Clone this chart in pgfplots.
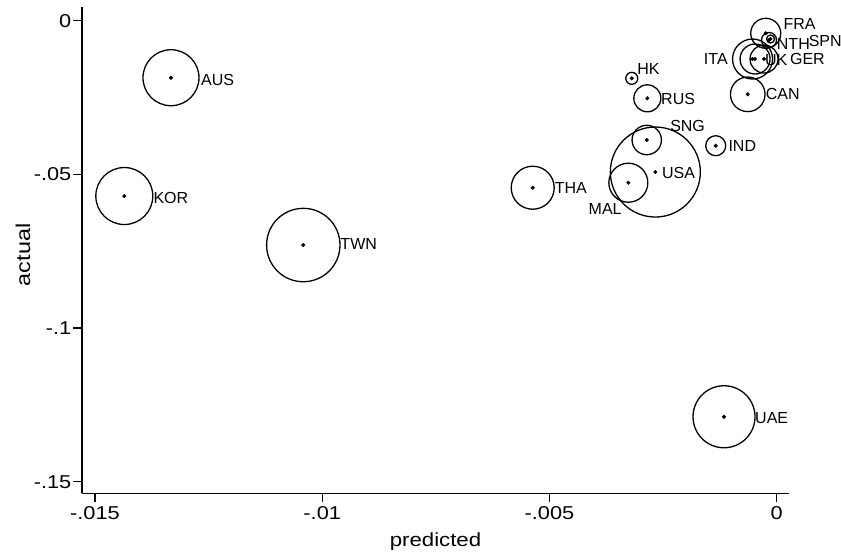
\documentclass[border=0pt]{standalone}
\usepackage{fontspec}
\setmainfont{Liberation Sans}
\newfontfamily\widefont[FakeStretch=1.17]{Liberation Sans}
\usepackage{pgfplots}
\usepackage{pgfplotstable}
\pgfplotsset{compat=1.18}
% x, y: data point; r: bubble radius (px)
\pgfplotstableread{
x y r
-0.013328 -0.018549 28
-0.014355 -0.057045 28.5
-0.010417 -0.072991 36.7
-0.005369 -0.054344 21.5
-0.003265 -0.052717 19.5
-0.002671 -0.049235 45
-0.002860 -0.038822 14.7
-0.001342 -0.040677 10
-0.003190 -0.018744 6
-0.002847 -0.025252 13.5
-0.000638 -0.023951 17.3
-0.001160 -0.128864 31
-0.000532 -0.012463 20
-0.000477 -0.012463 15
-0.000279 -0.012463 14
-0.000242 -0.004100 15
-0.000169 -0.006280 7.5
-0.000136 -0.005955 4
}\data
% label anchor positions, labels to the right of the point
\pgfplotstableread{
lx ly lab
-0.012668 -0.019200 AUS
-0.013717 -0.057696 KOR
-0.009603 -0.072666 TWN
-0.004885 -0.054344 THA
-0.002528 -0.049398 USA
-0.002347 -0.034234 SNG
-0.001065 -0.040677 IND
-0.003073 -0.015783 HK
-0.002546 -0.025577 RUS
-0.000242 -0.023951 CAN
-0.000478 -0.129189 UAE
-0.000262 -0.012691 UK
0.000290 -0.012463 GER
0.000145 -0.001139 FRA
0.000000 -0.007582 NTH
0.000700 -0.006606 SPN
}\labright
% labels to the left of the point
\pgfplotstableread{
lx ly lab
-0.003408 -0.061275 MAL
-0.001075 -0.012463 ITA
}\lableft
\begin{document}
\begin{tikzpicture}[x=1pt,y=1pt]
\path[use as bounding box] (0,0) rectangle (841,554);
\begin{axis}[
  at={(82pt,60.7pt)}, anchor=south west,
  scale only axis, width=707pt, height=486.6pt,
  xmin=-0.015286, xmax=0.00027, ymin=-0.15377, ymax=0.00456,
  scaled x ticks=false, scaled y ticks=false,
  axis x line*=bottom, axis y line*=left,
  axis line style={-, line width=1.2pt, black},
  tick align=outside, major tick length=9pt,
  tick style={black, line width=1.2pt},
  xtick={-0.015,-0.01,-0.005,0}, xticklabels={-.015,-.01,-.005,0},
  ytick={-0.15,-0.1,-0.05,0}, yticklabels={-.15,-.1,-.05,0},
  ticklabel style={font=\widefont\fontsize{18.6}{19}\selectfont},
  yticklabel style={inner xsep=1.5pt},
  xticklabel style={inner ysep=4pt},
  xlabel={predicted}, ylabel={actual},
  xlabel style={at={(axis description cs:0.5,-0.1097)}, anchor=base, font=\widefont\fontsize{19}{20}\selectfont},
  ylabel style={at={(axis description cs:-0.0835,0.49)}, anchor=center, font=\widefont\fontsize{20}{20}\selectfont},
  clip=false,
]
\addplot[scatter, only marks, mark=o,
  scatter/use mapped color={draw=black, fill=none},
  visualization depends on={\thisrow{r}\as\rad},
  scatter/@pre marker code/.append style={/tikz/mark size=\rad},
  mark options={line width=1.3pt}] table[x=x,y=y,meta=r]{\data};
\addplot[only marks, mark=*, mark size=1.8pt, black] table[x=x,y=y]{\data};
\addplot[only marks, mark=*, mark size=0pt, mark options={draw=none,fill=none},
  point meta=explicit symbolic, nodes near coords,
  every node near coord/.append style={anchor=west, inner sep=0pt, font=\fontsize{16}{16}\selectfont, black}]
  table[x=lx,y=ly,meta=lab]{\labright};
\addplot[only marks, mark=*, mark size=0pt, mark options={draw=none,fill=none},
  point meta=explicit symbolic, nodes near coords,
  every node near coord/.append style={anchor=east, inner sep=0pt, font=\fontsize{16}{16}\selectfont, black}]
  table[x=lx,y=ly,meta=lab]{\lableft};
\end{axis}
\end{tikzpicture}
\end{document}
